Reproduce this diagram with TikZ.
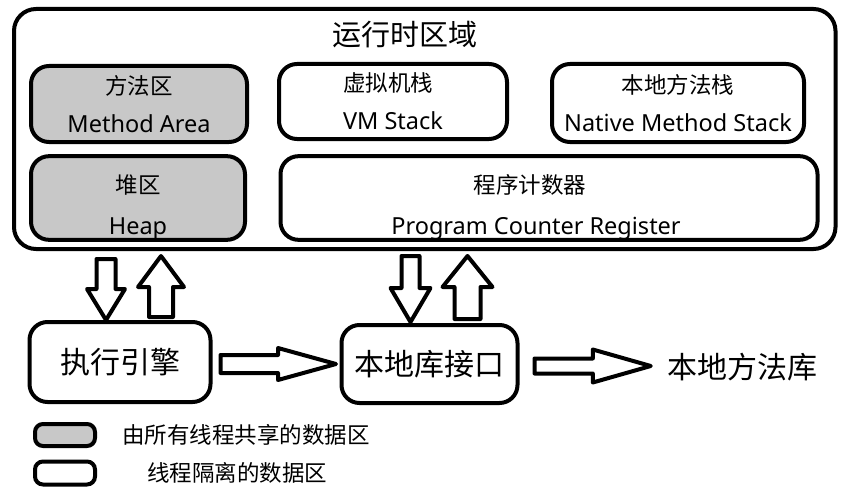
\documentclass[tikz,border=0pt]{standalone}
\usepackage{fontspec}
\setmainfont{Noto Sans}
\newfontfamily\cjk{Noto Sans CJK SC}
\usetikzlibrary{calc,positioning}
\definecolor{sharedgray}{RGB}{200,200,200}
\newcommand{\cntext}[1]{{\cjk\fontsize{22.5}{38}\selectfont #1}}
\tikzset{
	area/.style={draw, line width=4pt, rounded corners=18pt, align=center, inner sep=0pt, font=\fontsize{23.5}{38}\selectfont},
	shared/.style={area, fill=sharedgray},
	lowrow/.style={font=\fontsize{23.5}{41}\selectfont},
	big/.style={font=\cjk\fontsize{30}{36}\selectfont},
	legend/.style={font=\cjk\fontsize{22.5}{28}\selectfont, inner sep=0pt},
	blk/.style={draw, line width=4pt, line join=round, fill=white},
}
% block arrow: from, to, shaft half width, head half width, head length
\newcommand{\blockarrow}[5]{
	\coordinate (ba-c) at ($(#2)!#5!(#1)$);
	\draw[blk] ($(#1)!#3!90:(#2)$) -- ($(ba-c)!#3!90:(#2)$) -- ($(ba-c)!#4!90:(#2)$) -- (#2)
		-- ($(ba-c)!#4!-90:(#2)$) -- ($(ba-c)!#3!-90:(#2)$) -- ($(#1)!#3!-90:(#2)$) -- cycle;
}
\begin{document}
\begin{tikzpicture}[x=1pt, y=-1pt]
			\useasboundingbox (0,0) rectangle (850,492);
			%runtime data area
			\node (rt) at (424.75,129) [area, rounded corners=22pt, minimum width=821.5pt, minimum height=240pt]{};
			\node (title) at (405,35) [font=\cjk\fontsize{29}{35}\selectfont]{运行时区域};
			\node (ma) at (139,104) [shared, minimum width=216pt, minimum height=76pt]{\cntext{方法区}\\Method Area};
			\node (vm) at (393,101.5) [area, minimum width=228pt, minimum height=75pt]{\cntext{虚拟机栈\hspace*{10pt}}\\VM Stack};
			\node (nms) at (678,103) [area, minimum width=252pt, minimum height=78pt]{\cntext{本地方法栈}\\Native Method Stack};
			\node (hp) at (138,198) [shared, lowrow, minimum width=214pt, minimum height=74pt]{\cntext{\rule{0pt}{37pt}堆区}\\Heap};
			\node (pc) at (549,198) [area, lowrow, minimum width=537pt, minimum height=74pt]{\cntext{\rule{0pt}{37pt}程序计数器\hspace*{38pt}}\\Program Counter Register\hspace*{26pt}};
			
			%engine and native interface
			\node (ex) at (120,362) [area, big, minimum width=181pt, minimum height=80pt]{执行引擎};
			\node (jni) at (429.5,364) [area, big, minimum width=176pt, minimum height=78pt]{本地库接口};
			\node (lib) at (742,367) [big, inner sep=0pt]{本地方法库};
			
			%arrows
			\coordinate (d1a) at ($(rt.south -| ex.north)+(-14,8)$);
			\coordinate (d1b) at ($(ex.north)+(-14,0)$);
			\coordinate (u1a) at ($(ex.north)+(41,-3)$);
			\coordinate (u1b) at ($(rt.south -| ex.north)+(41,5)$);
			\coordinate (d2a) at ($(rt.south -| jni.north)+(-19,5)$);
			\coordinate (d2b) at ($(jni.north)+(-19,-1)$);
			\coordinate (u2a) at ($(jni.north)+(38,-4)$);
			\coordinate (u2b) at ($(rt.south -| jni.north)+(38,5)$);
			\coordinate (h1a) at ($(ex.east)+(8,2)$);
			\coordinate (h1b) at ($(jni.west)+(-3.5,0)$);
			\coordinate (h2a) at ($(jni.east)+(15,2)$);
			\coordinate (h2b) at ($(lib.west)+(-16,-1)$);
			\blockarrow{d1a}{d1b}{9.5pt}{19pt}{31pt}
			\blockarrow{u1a}{u1b}{12pt}{23pt}{31pt}
			\blockarrow{d2a}{d2b}{9pt}{20pt}{34pt}
			\blockarrow{u2a}{u2b}{13pt}{25pt}{31pt}
			\blockarrow{h1a}{h1b}{9pt}{16pt}{58pt}
			\blockarrow{h2a}{h2b}{7.5pt}{16.5pt}{58pt}
			
			%legend
			\node (lg1) at (65,435) [shared, rounded corners=8pt, minimum width=60pt, minimum height=22pt]{};
			\node (lg2) at (65,473) [area, rounded corners=8pt, minimum width=60pt, minimum height=23pt]{};
			\node (lg1txt) [legend, right=25pt of lg1]{由所有线程共享的数据区};
			\node (lg2txt) [legend, right=50pt of lg2]{线程隔离的数据区};
		\end{tikzpicture}
\end{document}
